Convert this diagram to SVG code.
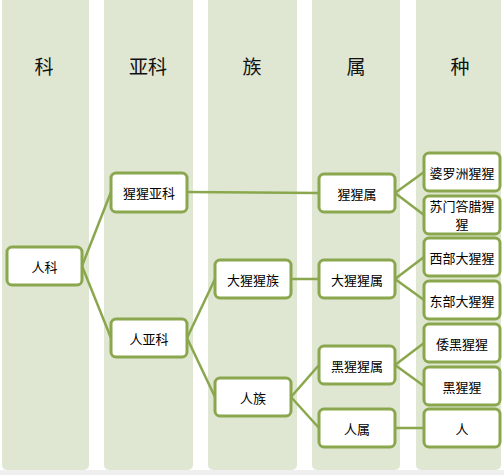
<svg xmlns="http://www.w3.org/2000/svg" width="504" height="475" viewBox="0 0 504 475">
<style>
.col{fill:#dfe7d3}
.hdr{font-family:"Noto Sans CJK SC","Liberation Sans",sans-serif;font-size:19px;fill:#111;text-anchor:middle}
.box{fill:#ffffff;stroke:#8aa74e;stroke-width:3}
.lbl{font-family:"Noto Sans CJK SC","Liberation Sans",sans-serif;font-size:13px;fill:#000;text-anchor:middle;dominant-baseline:central}
.ln{stroke:#8aa74e;stroke-width:2.5;fill:none}
</style>
<rect x="0" y="0" width="504" height="475" fill="#ffffff"/>
<rect x="0" y="470" width="504" height="5" fill="#efefef"/>
<g id="columns">
<rect class="col" x="2" y="-6" width="87" height="476" rx="5"/>
<rect class="col" x="104" y="-6" width="89" height="476" rx="5"/>
<rect class="col" x="208" y="-6" width="89" height="476" rx="5"/>
<rect class="col" x="312" y="-6" width="88" height="476" rx="5"/>
<rect class="col" x="416" y="-6" width="85" height="476" rx="5"/>
</g>
<g id="headers">
<text class="hdr" x="44" y="74">科</text>
<text class="hdr" x="148" y="74">亚科</text>
<text class="hdr" x="252" y="74">族</text>
<text class="hdr" x="356" y="74">属</text>
<text class="hdr" x="460" y="74">种</text>
</g>
<g id="connectors">
<line class="ln" x1="82" y1="266" x2="111" y2="192"/>
<line class="ln" x1="82" y1="266" x2="111" y2="338"/>
<line class="ln" x1="187" y1="192" x2="319" y2="193"/>
<line class="ln" x1="187" y1="338" x2="215" y2="279"/>
<line class="ln" x1="187" y1="338" x2="215" y2="397"/>
<line class="ln" x1="291" y1="279" x2="319" y2="279"/>
<line class="ln" x1="291" y1="397" x2="319" y2="365"/>
<line class="ln" x1="291" y1="397" x2="319" y2="428"/>
<line class="ln" x1="395" y1="193" x2="424" y2="172"/>
<line class="ln" x1="395" y1="193" x2="424" y2="215"/>
<line class="ln" x1="395" y1="279" x2="424" y2="257"/>
<line class="ln" x1="395" y1="279" x2="424" y2="300"/>
<line class="ln" x1="395" y1="365" x2="424" y2="343"/>
<line class="ln" x1="395" y1="365" x2="424" y2="386"/>
<line class="ln" x1="395" y1="428" x2="424" y2="428"/>
</g>
<g id="n-renke"><rect class="box" x="7" y="247" width="75" height="38" rx="5"/><text class="lbl" x="44.5" y="266">人科</text></g>
<g id="n-xingxingyake"><rect class="box" x="111" y="173" width="76" height="39" rx="5"/><text class="lbl" x="149" y="192">猩猩亚科</text></g>
<g id="n-renyake"><rect class="box" x="111" y="319" width="76" height="38" rx="5"/><text class="lbl" x="149" y="338">人亚科</text></g>
<g id="n-daxingxingzu"><rect class="box" x="215" y="260" width="76" height="38" rx="5"/><text class="lbl" x="253" y="279">大猩猩族</text></g>
<g id="n-renzu"><rect class="box" x="215" y="378" width="76" height="38" rx="5"/><text class="lbl" x="253" y="397">人族</text></g>
<g id="n-xingxingshu"><rect class="box" x="319" y="174" width="76" height="38" rx="5"/><text class="lbl" x="357" y="193">猩猩属</text></g>
<g id="n-daxingxingshu"><rect class="box" x="319" y="260" width="76" height="38" rx="5"/><text class="lbl" x="357" y="279">大猩猩属</text></g>
<g id="n-heixingxingshu"><rect class="box" x="319" y="346" width="76" height="38" rx="5"/><text class="lbl" x="357" y="365">黑猩猩属</text></g>
<g id="n-renshu"><rect class="box" x="319" y="409" width="76" height="38" rx="5"/><text class="lbl" x="357" y="428">人属</text></g>
<g id="n-poluozhou"><rect class="box" x="424" y="153" width="76" height="38" rx="5"/><text class="lbl" x="462" y="172">婆罗洲猩猩</text></g>
<g id="n-sumendala"><rect class="box" x="424" y="196" width="76" height="38" rx="5"/><text class="lbl" x="462" y="205.5" font-size="12">苏门答腊猩</text><text class="lbl" x="462" y="223.5" font-size="12">猩</text></g>
<g id="n-xibu"><rect class="box" x="424" y="238" width="76" height="38" rx="5"/><text class="lbl" x="462" y="257">西部大猩猩</text></g>
<g id="n-dongbu"><rect class="box" x="424" y="281" width="76" height="38" rx="5"/><text class="lbl" x="462" y="300">东部大猩猩</text></g>
<g id="n-woheixingxing"><rect class="box" x="424" y="324" width="76" height="38" rx="5"/><text class="lbl" x="462" y="343">倭黑猩猩</text></g>
<g id="n-heixingxing"><rect class="box" x="424" y="367" width="76" height="38" rx="5"/><text class="lbl" x="462" y="386">黑猩猩</text></g>
<g id="n-ren"><rect class="box" x="424" y="409" width="76" height="38" rx="5"/><text class="lbl" x="462" y="428">人</text></g>
</svg>
